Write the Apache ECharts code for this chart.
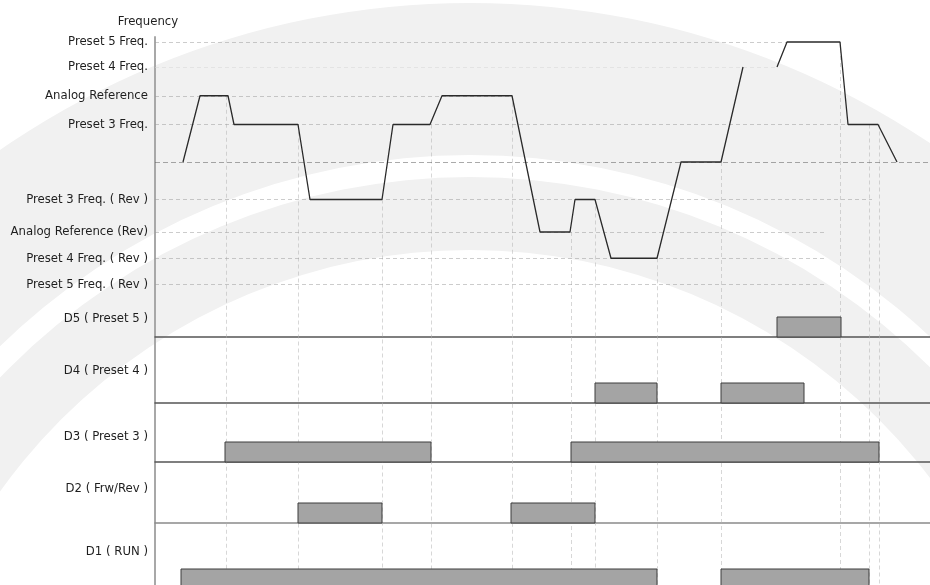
<!DOCTYPE html>
<html>
<head>
<meta charset="utf-8">
<script src="https://cdn.jsdelivr.net/npm/echarts@6/dist/echarts.min.js"></script>
<style>
html,body{margin:0;padding:0;background:#fff;}
#chart{width:930px;height:585px;}
</style>
</head>
<body>
<div id="chart"></div>
<script>
// ---- data ----
const levelNames = ['Preset 5 Freq.', 'Preset 4 Freq.', 'Analog Reference', 'Preset 3 Freq.',
  'Preset 3 Freq. ( Rev )', 'Analog Reference (Rev)', 'Preset 4 Freq. ( Rev )', 'Preset 5 Freq. ( Rev )'];
const levelValues = [48, 38, 26.5, 15, -15, -28, -38.5, -49];
const refEnds = [632, 622, 357, 693, 717, 670, 670, 670];
const zeroEnd = 775;

const curveTimes1 = [28, 45, 73, 79, 143, 155, 227, 238, 275, 287, 357, 385, 415, 420, 440, 456, 502, 526, 566, 588];
const curveFreqs1 = [0, 26.5, 26.5, 15, 15, -15, -15, 15, 15, 26.5, 26.5, -28, -28, -15, -15, -38.5, -38.5, 0, 0, 38];
const curveTimes2 = [622, 632, 685, 693, 723, 742];
const curveFreqs2 = [38, 48, 48, 15, 15, 0];

const markerTimes = [71, 143, 227, 276, 357, 416, 440, 502, 566, 685, 714, 724];
const markerFreqs = [26.5, 15, -15, 15, 26.5, -28, -15, -38.5, 0, 48, 15, 15];

const channels = ['D5 ( Preset 5 )', 'D4 ( Preset 4 )', 'D3 ( Preset 3 )', 'D2 ( Frw/Rev )', 'D1 ( RUN )'];
const d5On = [[622, 686]];
const d4On = [[440, 502], [566, 649]];
const d3On = [[70, 276], [416, 724]];
const d2On = [[143, 227], [356, 440]];
const d1On = [[26, 502], [566, 714]];
const channelOn = [d5On, d4On, d3On, d2On, d1On];
const channelLabelAt = [0.9, 1.6, 1.25, 1.7, 1.85];

// ---- layout ----
const FONT = '"DejaVu Sans Condensed", "Liberation Sans Narrow", "DejaVu Sans", sans-serif';
const AX_LEFT = 155;
const X_MAX = 775;
const Y_MIN = -169.2, Y_MAX = 50;
const rowTops = [277, 343, 402, 463, 529];
const ROW_H = 60;
const rowRanges = [[0, 3], [0, 3], [0, 3], [0, 3], [0.2, 3.0]];

const grids = [{left: AX_LEFT, right: 0, top: 37, bottom: 0}];
rowTops.forEach((t, i) => grids.push(i < 4
  ? {left: AX_LEFT, right: 0, top: t, height: ROW_H}
  : {left: AX_LEFT, right: 0, top: t, bottom: 0}));

const TXT = {color: '#1e1e1e', fontFamily: FONT, fontSize: 13};

const xAxes = [{gridIndex: 0, type: 'value', min: 0, max: X_MAX, show: false}];
const yAxes = [{
  gridIndex: 0, type: 'value', min: Y_MIN, max: Y_MAX,
  name: 'Frequency', nameLocation: 'end', nameGap: 9,
  nameTextStyle: Object.assign({padding: [0, 14, 0, 0]}, TXT),
  axisLine: {show: true, lineStyle: {color: '#a8a8a8', width: 2}},
  axisTick: {show: false},
  splitLine: {show: false},
  axisLabel: Object.assign({
    customValues: levelValues, margin: 7,
    formatter: v => levelNames[levelValues.indexOf(v)]
  }, TXT)
}];
channels.forEach((name, i) => {
  xAxes.push({
    gridIndex: i + 1, type: 'value', min: 0, max: X_MAX,
    axisLine: {show: i < 4, onZero: false, lineStyle: {color: i === 3 ? '#8a8a8a' : '#555', width: 1.5}},
    axisTick: {show: false}, axisLabel: {show: false}, splitLine: {show: false}
  });
  yAxes.push({
    gridIndex: i + 1, type: 'value', min: rowRanges[i][0], max: rowRanges[i][1],
    axisLine: {show: false}, axisTick: {show: false}, splitLine: {show: false},
    axisLabel: Object.assign({
      customValues: [channelLabelAt[i]], margin: 7,
      formatter: () => name
    }, TXT)
  });
});

const refLines = levelValues.map((v, i) => ({
  coords: [[0, v], [refEnds[i], v]],
  lineStyle: {color: i === 1 ? '#d6d6d6' : '#9a9a9a', width: 1, type: [4, 3]}
}));
refLines.push({coords: [[0, 0], [zeroEnd, 0]], lineStyle: {color: '#555', width: 1, type: [5, 3]}});

const vLines = markerTimes.map((t, i) => ({
  coords: [[t, markerFreqs[i]], [t, Y_MIN]],
  lineStyle: {color: '#b0b0b0', width: 1, type: [4, 3]}
}));

const series = [
  {type: 'lines', coordinateSystem: 'cartesian2d', xAxisIndex: 0, yAxisIndex: 0, z: 2,
   silent: true, data: vLines},
  {type: 'lines', coordinateSystem: 'cartesian2d', xAxisIndex: 0, yAxisIndex: 0, z: 3,
   silent: true, data: refLines},
  {type: 'line', xAxisIndex: 0, yAxisIndex: 0, z: 5, symbol: 'none', silent: true,
   lineStyle: {color: '#2a2a2a', width: 1.3},
   data: curveTimes1.map((t, i) => [t, curveFreqs1[i]])},
  {type: 'line', xAxisIndex: 0, yAxisIndex: 0, z: 5, symbol: 'none', silent: true,
   lineStyle: {color: '#2a2a2a', width: 1.3},
   data: curveTimes2.map((t, i) => [t, curveFreqs2[i]])}
];
channelOn.forEach((spans, i) => {
  series.push({
    type: 'custom', xAxisIndex: i + 1, yAxisIndex: i + 1, z: 6, silent: true, clip: false,
    dimensions: ['start', 'end'], encode: {x: [0, 1]},
    data: spans,
    renderItem: (params, api) => {
      const a = api.coord([api.value(0), 1]);
      const b = api.coord([api.value(1), 0]);
      return {type: 'rect', shape: {x: a[0], y: a[1], width: b[0] - a[0], height: b[1] - a[1]},
        style: {fill: '#a4a4a4', stroke: '#3c3c3c', lineWidth: 1}};
    }
  });
});

const chart = echarts.init(document.getElementById('chart'), null, {renderer: 'canvas'});
chart.setOption({
  animation: false,
  backgroundColor: '#ffffff',
  graphic: {elements: [
    {type: 'ring', shape: {cx: 470, cy: 828, r: 825, r0: 673}, style: {fill: '#f1f1f1'}, z: -100, silent: true},
    {type: 'ring', shape: {cx: 470, cy: 828, r: 651, r0: 578}, style: {fill: '#f1f1f1'}, z: -100, silent: true}
  ]},
  grid: grids, xAxis: xAxes, yAxis: yAxes, series: series
});
</script>
</body>
</html>
